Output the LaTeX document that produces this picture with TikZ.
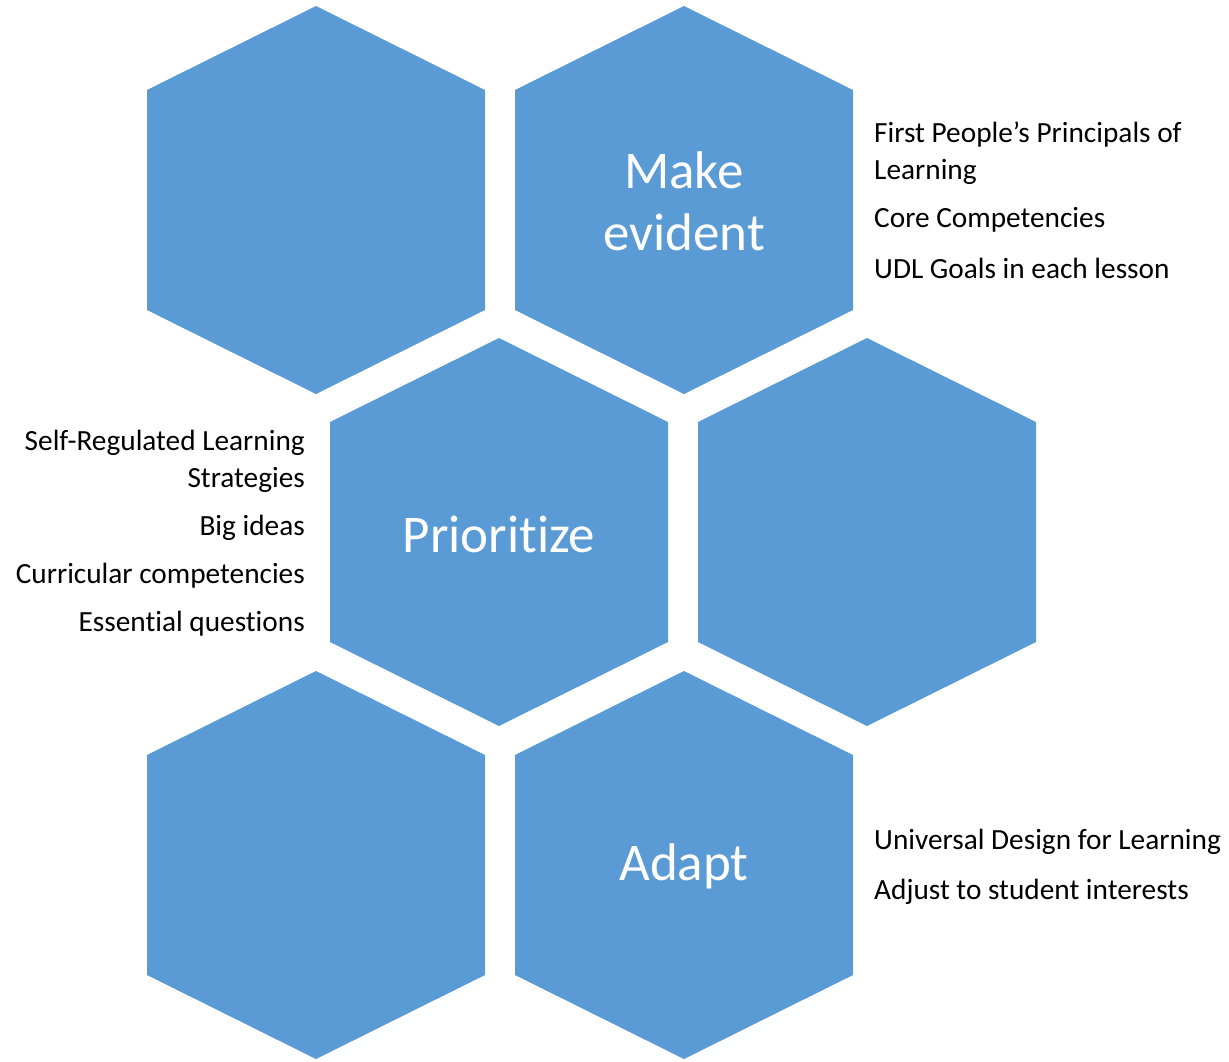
\documentclass[tikz,border=0pt]{standalone}
\usepackage{fontspec}
\setmainfont[Ligatures={NoCommon,NoRare,NoContextual}]{Carlito}
\definecolor{hexblue}{HTML}{5B9BD5}
\tikzset{
  hexfill/.style={fill=hexblue},
  bigtext/.style={text=white, font=\fontsize{53}{62}\selectfont, align=center, inner sep=0pt},
  lbl/.style={text=black, font=\fontsize{29.3}{36}\selectfont, inner sep=0pt}
}
\newcommand{\hexat}[3]{%
  \fill[hexfill] (#2-169,#3-110) -- (#2,#3-194) -- (#2+169,#3-110) -- (#2+169,#3+110) -- (#2,#3+194) -- (#2-169,#3+110) -- cycle;
  \coordinate (#1) at (#2,#3);}
\begin{document}
\begin{tikzpicture}[x=1pt,y=-1pt]
\useasboundingbox (0,0) rectangle (1229,1061);
\hexat{h1}{316}{200}
\hexat{h2}{684}{200}
\hexat{h3}{499}{532}
\hexat{h4}{867}{532}
\hexat{h5}{316}{865}
\hexat{h6}{684}{865}
\node[bigtext] (t2) at (684,201) {Make\\evident};
\node[bigtext] (t3) at (499,534) {Prioritize};
\node[bigtext] (t6) at (684,866) {Adapt};
% right labels top
\node[lbl, anchor=west] (r1) at (874,135) {First People’s Principals of};
\node[lbl, anchor=west] (r2) at (874,172) {Learning};
\node[lbl, anchor=west] (r3) at (874,220) {Core Competencies};
\node[lbl, anchor=west] (r4) at (874,268) {UDL Goals in each lesson};
% left labels
\node[lbl, anchor=east] (l1) at (305,443) {Self-Regulated Learning};
\node[lbl, anchor=east] (l2) at (305,480) {Strategies};
\node[lbl, anchor=east] (l3) at (305,528) {Big ideas};
\node[lbl, anchor=east] (l4) at (305,576) {Curricular competencies};
\node[lbl, anchor=east] (l5) at (305,624) {Essential questions};
% bottom right
\node[lbl, anchor=west] (b1) at (874,842) {Universal Design for Learning};
\node[lbl, anchor=west] (b2) at (874,892) {Adjust to student interests};
\end{tikzpicture}
\end{document}
